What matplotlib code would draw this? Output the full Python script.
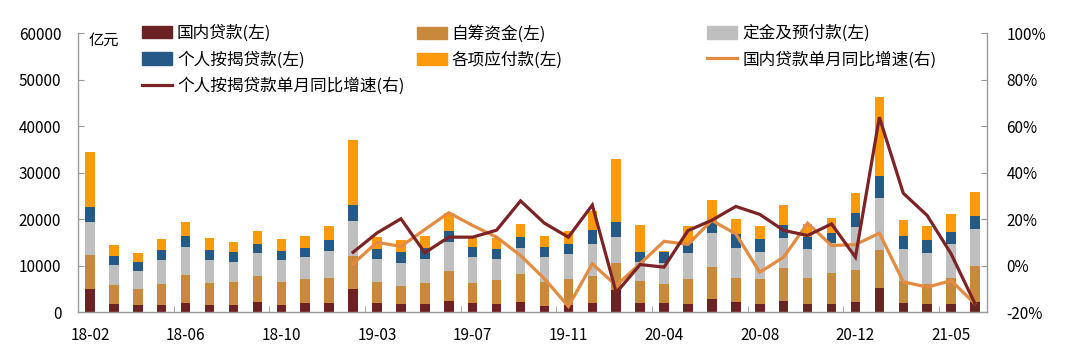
import numpy as np
import matplotlib.pyplot as plt
from matplotlib.lines import Line2D
from matplotlib.patches import Patch

plt.rcParams['font.family'] = ['Noto Sans CJK SC', 'DejaVu Sans']

# months (Jan merged into Feb)
months = ['18-02', '18-03', '18-04', '18-05', '18-06', '18-07', '18-08', '18-09', '18-10', '18-11', '18-12',
          '19-02', '19-03', '19-04', '19-05', '19-06', '19-07', '19-08', '19-09', '19-10', '19-11', '19-12',
          '20-02', '20-03', '20-04', '20-05', '20-06', '20-07', '20-08', '20-09', '20-10', '20-11', '20-12',
          '21-02', '21-03', '21-04', '21-05', '21-06']

# 亿元
domestic_loan = [4900, 1800, 1500, 1400, 2000, 1600, 1600, 2100, 1500, 1850, 2000,
                 4900, 2000, 1700, 1650, 2450, 1850, 1800, 2150, 1350, 1500, 2000,
                 4700, 2000, 1850, 1800, 2850, 2150, 1700, 2300, 1700, 1700, 2150,
                 5100, 1850, 1650, 1700, 2200]
self_raised = [7400, 4100, 3500, 4600, 6000, 4700, 4800, 5650, 5000, 5150, 5250,
               7250, 4500, 3900, 4650, 6450, 4300, 5100, 6100, 5100, 5600, 5750,
               5900, 4650, 4100, 5300, 6900, 5100, 5300, 7250, 5550, 6750, 6900,
               8250, 4900, 4300, 5550, 7700]
deposits = [7000, 4150, 3900, 5200, 6050, 4900, 4450, 4900, 4750, 4750, 5950,
            7450, 5000, 5000, 5100, 6150, 5600, 4450, 5500, 5300, 5400, 6900,
            5600, 4000, 4500, 5500, 7150, 6450, 6000, 6450, 6300, 6300, 9300,
            11100, 6750, 6650, 7400, 8050]
mortgage = [3300, 1950, 1850, 2050, 2300, 2050, 1950, 1950, 1800, 1950, 2300,
            3450, 2100, 2300, 2300, 2450, 2300, 2150, 2450, 2150, 2100, 2950,
            3100, 2150, 2500, 2150, 2750, 3000, 2700, 2700, 2650, 2300, 2900,
            4900, 2950, 2850, 2650, 2700]
payables = [11900, 2500, 1950, 2500, 3000, 2650, 2300, 2800, 2600, 2650, 3000,
            14000, 2600, 2600, 2750, 3700, 1800, 2500, 2650, 2500, 2750, 4100,
            13700, 5950, 150, 3750, 4450, 3200, 2800, 4300, 2800, 3100, 4300,
            16850, 3350, 3000, 3750, 5250]

# single-month yoy, % (starts 19-02)
loan_yoy = [None] * 11 + [0.7, 10.0, 8.2, 15.5, 22.7, 17.2, 12.2, 4.3, -5.7, -17.6, 0.7,
                          -8.6, 0.8, 10.4, 9.1, 19.4, 13.6, -2.9, 3.6, 18.2, 8.6, 9.0,
                          13.9, -7.0, -9.3, -6.5, -16.5]
mortgage_yoy = [None] * 11 + [5.7, 14.0, 20.1, 5.5, 12.2, 12.2, 15.2, 27.8, 18.2, 12.2, 26.0,
                              -11.7, 0.4, -0.7, 15.0, 19.5, 25.4, 22.0, 15.1, 12.9, 17.9, 3.6,
                              63.8, 31.1, 21.5, 5.0, -16.5]

c_loan = '#6b2222'
c_self = '#c88a3a'
c_dep = '#bfbfbf'
c_mort = '#255a87'
c_pay = '#fd9a0b'
c_loan_line = '#e38b40'
c_mort_line = '#7d2326'

x = np.arange(len(months))
w = 0.4

fig = plt.figure(figsize=(10.8, 3.55), dpi=100)
ax = fig.add_axes([0.0722, 0.1211, 0.8417, 0.7859])

stacks = [(domestic_loan, c_loan), (self_raised, c_self), (deposits, c_dep),
          (mortgage, c_mort), (payables, c_pay)]
bottom = np.zeros(len(months))
for vals, col in stacks:
    v = np.array(vals, dtype=float)
    ax.bar(x, v, w, bottom=bottom, color=col, linewidth=0)
    bottom += v

ax.set_xlim(-0.5, len(months) - 0.5)
ax.set_ylim(0, 60000)
ax.set_yticks(range(0, 60001, 10000))

ax2 = ax.twinx()
ly = np.array([np.nan if v is None else v for v in loan_yoy])
my = np.array([np.nan if v is None else v for v in mortgage_yoy])
ax2.plot(x, ly, color=c_loan_line, lw=2.3, solid_joinstyle='miter')
ax2.plot(x, my, color=c_mort_line, lw=2.3, solid_joinstyle='miter')
ax2.set_ylim(-20, 100)
ax2.set_yticks(range(-20, 101, 20))
ax2.set_yticklabels([f'{v}%' for v in range(-20, 101, 20)])

grey = '#9a9a9a'
for a in (ax, ax2):
    a.spines['top'].set_visible(False)
    for s in ('left', 'right', 'bottom'):
        a.spines[s].set_color(grey)
        a.spines[s].set_linewidth(1.0)
ax2.spines['left'].set_visible(False)
ax2.spines['bottom'].set_visible(False)
ax.spines['right'].set_visible(False)

ax.tick_params(axis='y', direction='in', length=4, color=grey, labelsize=11, pad=12)
ax2.tick_params(axis='y', direction='in', length=4, color=grey, labelsize=11, pad=14)

ax.set_xticks(x[::4])
ax.set_xticklabels(months[::4])
ax.set_xticks(np.arange(3.5, len(months) - 1, 4), minor=True)
ax.tick_params(axis='x', which='major', length=0, labelsize=11, pad=11)
ax.tick_params(axis='x', which='minor', direction='in', length=4, color=grey)

ax.text(0.012, 0.975, '亿元', transform=ax.transAxes, fontsize=11, va='center', ha='left')

# legend laid out row by row as in the source: three separate columns
cols = [
    (0.1176, [Patch(color=c_loan), Patch(color=c_mort), Line2D([], [], color=c_mort_line, lw=2.3)],
     ['国内贷款(左)', '个人按揭贷款(左)', '个人按揭贷款单月同比增速(右)']),
    (0.372, [Patch(color=c_self), Patch(color=c_pay)],
     ['自筹资金(左)', '各项应付款(左)']),
    (0.641, [Patch(color=c_dep), Line2D([], [], color=c_loan_line, lw=2.3)],
     ['定金及预付款(左)', '国内贷款单月同比增速(右)']),
]
for xpos, hs, ls in cols:
    fig.legend(hs, ls, loc='upper left', bbox_to_anchor=(xpos, 0.972),
               frameon=False, fontsize=12, handlelength=1.8, handleheight=0.75,
               handletextpad=0.3, labelspacing=0.52)

fig.savefig('out.png', dpi=100)
